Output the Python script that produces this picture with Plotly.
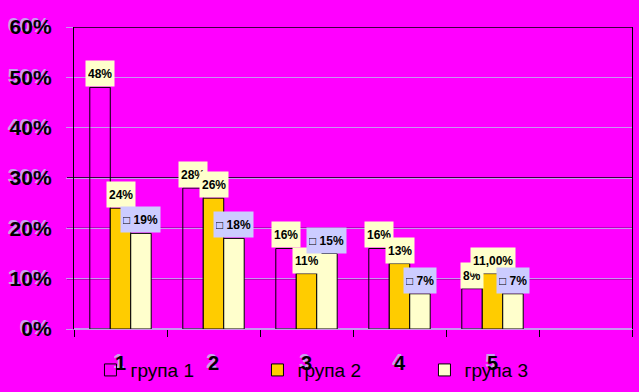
import plotly.graph_objects as go

# ---------------- data ----------------
categories = ["1", "2", "3", "4", "5"]
group_names = ["група 1", "група 2", "група 3"]
group1 = [0.48, 0.28, 0.16, 0.16, 0.08]
group2 = [0.24, 0.26, 0.11, 0.13, 0.11]
group3 = [0.19, 0.18, 0.15, 0.07, 0.07]
labels1 = ["48%", "28%", "16%", "16%", "8%"]
labels2 = ["24%", "26%", "11%", "13%", "11,00%"]
labels3 = ["19%", "18%", "15%", "7%", "7%"]
y_ticks = [0, 0.1, 0.2, 0.3, 0.4, 0.5, 0.6]

# ---------------- style ----------------
BG = "#FF00FF"
LAV = "#C896F0"
FONT = "Arial, Liberation Sans, sans-serif"
SHADOW = "-2px -2px 0px #C8A0F0"
fills = ["rgba(0,0,0,0)", "#FFCC00", "#FFFFCC"]
label_bg = ["#FFFFCC", "#FFFFCC", "#CCCCFF"]
label_prefix = ["", "", "□ "]
bar_w = 0.22
offsets = [-0.33, -0.11, 0.11]
black_grid = [0.1, 0.2, 0.3, 0.6]

series = [group1, group2, group3]
labels = [labels1, labels2, labels3]
positions = list(range(1, len(categories) + 1))

fig = go.Figure()
annotations = []
for k, (vals, name) in enumerate(zip(series, group_names)):
    fig.add_trace(go.Bar(
        x=positions, y=vals, name=name,
        width=bar_w, offset=offsets[k],
        marker=dict(color=fills[k], line=dict(color="black", width=1)),
        hoverinfo="skip",
    ))
    for p, v, t in zip(positions, vals, labels[k]):
        annotations.append(dict(
            x=p + offsets[k] + bar_w / 2, y=v, xref="x", yref="y",
            text="<b>" + label_prefix[k] + t + "</b>",
            showarrow=False, xanchor="center", yanchor="bottom",
            bgcolor=label_bg[k], height=21, borderpad=2,
            font=dict(family=FONT, size=12, color="black"),
        ))

shapes = [dict(type="line", xref="paper", yref="y", x0=-0.0125, x1=1, y0=g, y1=g,
               line=dict(color="black", width=1.3), layer="below") for g in black_grid]

fig.update_layout(
    width=639, height=392,
    margin=dict(l=74, r=7, t=27, b=63, autoexpand=False),
    paper_bgcolor=BG, plot_bgcolor=BG,
    barmode="overlay",
    showlegend=True,
    legend=dict(orientation="h", x=0.0295, xanchor="left", y=-0.136, yanchor="middle",
                font=dict(family=FONT, size=19, color="black"),
                bgcolor="rgba(0,0,0,0)", entrywidth=122, entrywidthmode="pixels",
                traceorder="normal"),
    annotations=annotations,
    shapes=shapes,
    xaxis=dict(range=[0.5, 6.5], tickmode="array", tickvals=positions, ticktext=categories,
               ticks="", ticklabelstandoff=20, showgrid=False, zeroline=False, showline=False,
               automargin=False,
               tickfont=dict(family=FONT, size=20, color="black", weight="bold", shadow=SHADOW),
               minor=dict(tickmode="array", tickvals=[p - 0.5 for p in positions] + [6.5, 5.5],
                          ticks="outside", ticklen=7, tickcolor="black", tickwidth=1, showgrid=False),
               fixedrange=True),
    yaxis=dict(range=[0, 0.6], tickmode="array", tickvals=y_ticks, tickformat=".0%",
               showgrid=True, gridcolor=LAV, gridwidth=1, zeroline=True, zerolinecolor=LAV,
               showline=True, linecolor="black", linewidth=1.3, mirror=True,
               ticks="outside", ticklen=7, tickcolor=LAV, ticklabelstandoff=10,
               automargin=False,
               tickfont=dict(family=FONT, size=21, color="black", weight="bold", shadow=SHADOW),
               fixedrange=True),
)

fig.write_html(
    "out.html",
    config={"displayModeBar": False},
    post_script="document.body.style.margin='0';document.body.style.background='#FF00FF';"
                "document.body.style.overflow='hidden';",
)
